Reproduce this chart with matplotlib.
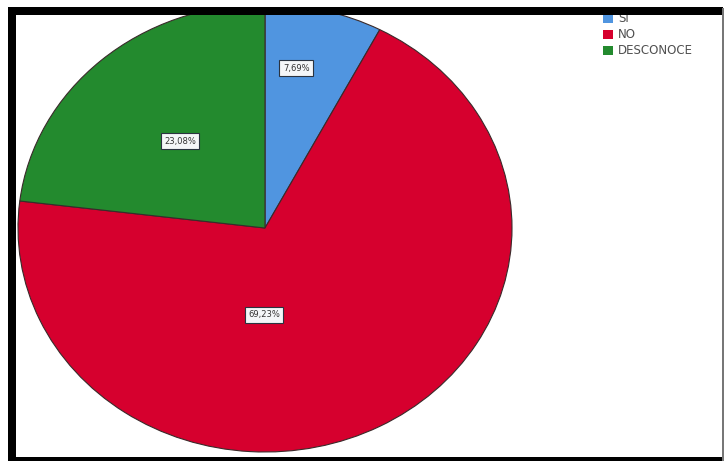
import matplotlib
matplotlib.use("Agg")
import matplotlib.pyplot as plt
from matplotlib.patches import Rectangle

# data
categories = ["SI", "NO", "DESCONOCE"]
counts = [1, 9, 3]
colors = ["#5095e0", "#d6002e", "#238a2e"]
pct_labels = ["7,69%", "69,23%", "23,08%"]

# where the percentage boxes sit (data coords, pie radius = 1)
label_pos = [(0.126, 0.714), (-0.004, -0.388), (-0.344, 0.388)]

W, H = 726, 463
fig = plt.figure(figsize=(W / 100, H / 100), dpi=100)

# pie area (inside the black frame), ellipse centre at (265, 228) px
cx, cy, rx, ry = 265, 228, 247, 224
left, right, top, bottom = 16, 723, 15, 458
ax = fig.add_axes([left / W, 1 - bottom / H, (right - left) / W, (bottom - top) / H])
wedges, _ = ax.pie(counts, colors=colors, startangle=90, counterclock=False,
                   wedgeprops=dict(edgecolor="#3a2a2a", linewidth=0.8))
for w in wedges:
    w.set_clip_on(True)
ax.set_aspect("auto")
ax.set_xlim((left - cx) / rx, (right - cx) / rx)
ax.set_ylim(-(bottom - cy) / ry, (cy - top) / ry)
ax.axis("off")

for (x, y), txt in zip(label_pos, pct_labels):
    ax.text(x, y, txt, ha="center", va="center", fontsize=6, color="#333333",
            bbox=dict(boxstyle="square,pad=0.4", facecolor="#f4f6f8",
                      edgecolor="#2a3340", linewidth=0.8))

# legend top right
leg = fig.legend(wedges, categories, loc="upper left",
                 bbox_to_anchor=(595 / W, 1 - 4 / H), frameon=False,
                 fontsize=8.5, handlelength=0.85, handleheight=0.8,
                 handletextpad=0.4, labelspacing=0.25, borderpad=0.2)
for t in leg.get_texts():
    t.set_color("#505050")
for h in leg.legend_handles:
    h.set_linewidth(0)

# black frame like the screenshot
frame = [
    (8, H - 15, 715, 8),     # top
    (8, H - 461, 8, 454),    # left
    (8, H - 461, 715, 4),    # bottom
]
for x0, y0, w0, h0 in frame:
    fig.patches.append(Rectangle((x0 / W, y0 / H), w0 / W, h0 / H,
                                 transform=fig.transFigure, facecolor="black",
                                 edgecolor="none", zorder=10))
fig.patches.append(Rectangle((722 / W, 2 / H), 1.5 / W, (H - 10) / H,
                             transform=fig.transFigure, facecolor="#777777",
                             edgecolor="none", zorder=10))

fig.savefig("out.png", dpi=100)
